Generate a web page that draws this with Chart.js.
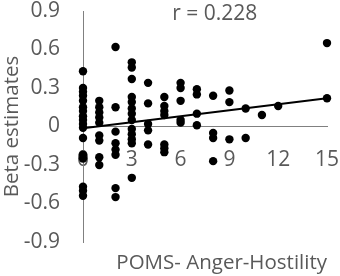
<!DOCTYPE html>
<html><head><meta charset="utf-8">
<script src="https://cdn.jsdelivr.net/npm/chart.js@4/dist/chart.umd.min.js"></script>
<style>html,body{margin:0;padding:0;background:#fff;}#wrap{width:340px;height:276px;}</style>
</head><body><div id="wrap"><canvas id="c" width="340" height="276"></canvas></div>
<script>
// POMS Anger-Hostility scores (x) and beta estimates (y)
const angerScores = [
  0,0,0,0,0,0,0,0,0,0,0,0,0,0,0,0,0,
  1,1,1,1,1,1,1,1,1,
  2,2,2,2,2,2,2,2,
  3,3,3,3,3,3,3,3,3,3,3,3,3,
  4,4,4,4,4,
  5,5,5,5,5,5,5,
  6,6,6,6,6,
  7,7,7,7,
  8,8,8,8,
  9,9,9,
  10,10,
  11,
  12,
  15,15
];
const betaEstimates = [
  0.43,0.30,0.27,0.24,0.20,0.15,0.12,0.08,0.05,0.02,-0.01,-0.09,-0.22,-0.25,-0.47,-0.50,-0.54,
  0.20,0.15,0.11,0.07,0.03,-0.07,-0.11,-0.24,-0.30,
  0.62,0.15,-0.04,-0.13,-0.18,-0.22,-0.48,-0.55,
  0.50,0.46,0.37,0.23,0.19,0.14,0.10,0.05,-0.02,-0.06,-0.10,-0.13,-0.40,
  0.34,0.18,0.02,-0.03,-0.14,
  0.23,0.16,0.12,0.09,-0.14,-0.17,-0.20,
  0.34,0.30,0.20,0.05,0.03,
  0.29,0.25,0.10,0.01,
  0.24,-0.05,-0.09,-0.27,
  0.28,0.19,-0.10,
  0.14,-0.09,
  0.09,
  0.16,
  0.65,0.22
];
// Linear trend line endpoints
const trendX = [0, 15];
const trendY = [-0.013, 0.22];
const xTickLabels = ['0','3','6','9','12','15'];
const yTickLabels = ['-0.9','-0.6','-0.3','0','0.3','0.6','0.9'];
const rText = 'r = 0.228';
const xTitle = 'POMS- Anger-Hostility';
const yTitle = 'Beta estimates';

const FONT = 'Open Sans';
const TXT = '#595959';
const AX = '#808080';

const points = angerScores.map((x, i) => ({x: x, y: betaEstimates[i]}));
const trend = trendX.map((x, i) => ({x: x, y: trendY[i]}));

const rLabel = {
  id: 'rLabel',
  afterDatasetsDraw(chart) {
    const {ctx, scales} = chart;
    ctx.save();
    ctx.font = '21px "' + FONT + '"';
    ctx.fillStyle = TXT;
    ctx.textAlign = 'center';
    ctx.textBaseline = 'middle';
    ctx.fillText(rText, scales.x.getPixelForValue(8.1), scales.y.getPixelForValue(0.875));
    ctx.restore();
  }
};

const noPad = s => { s.paddingTop = 0; s.paddingBottom = 0; s.paddingLeft = 0; s.paddingRight = 0; };

new Chart(document.getElementById('c'), {
  data: {
    datasets: [
      {type: 'line', data: trend, borderColor: '#000', borderWidth: 2, pointRadius: 0, fill: false, order: 0, xAxisID: 'x', yAxisID: 'y', clip: false},
      {type: 'scatter', data: points, backgroundColor: '#000', borderColor: '#000', borderWidth: 0, pointRadius: 4.2, order: 1, xAxisID: 'x', yAxisID: 'y', clip: false}
    ]
  },
  options: {
    responsive: false,
    devicePixelRatio: 1,
    animation: false,
    plugins: {legend: {display: false}, tooltip: {enabled: false}},
    layout: {padding: {top: 11, right: 13, bottom: 0, left: 0}},
    scales: {
      x: {
        type: 'linear', position: {y: 0}, min: 0, max: 15, z: 1,
        afterBuildTicks: s => { s.ticks = xTickLabels.map(v => ({value: Number(v)})); },
        ticks: {padding: 21, color: TXT, font: {family: FONT, size: 21}, maxRotation: 0, autoSkip: false,
          callback: (v, i) => xTickLabels[i]},
        grid: {display: false, drawTicks: false},
        border: {display: true, color: AX, width: 1},
        afterFit: noPad
      },
      x2: {
        type: 'linear', axis: 'x', position: 'bottom', min: 0, max: 15,
        ticks: {display: false},
        grid: {display: false, drawTicks: false},
        border: {display: false},
        title: {display: true, text: xTitle, align: 'end', color: TXT, font: {family: FONT, size: 20.5}, padding: {top: 0, bottom: 1}},
        afterFit: s => { noPad(s); s.height = 34; }
      },
      y: {
        type: 'linear', position: 'left', min: -0.9, max: 0.9,
        afterBuildTicks: s => { s.ticks = yTickLabels.map(v => ({value: Number(v)})); },
        ticks: {padding: 23, color: TXT, font: {family: FONT, size: 21},
          callback: (v, i) => yTickLabels[i]},
        grid: {display: false, drawTicks: false},
        border: {display: true, color: AX, width: 1},
        title: {display: true, text: yTitle, color: TXT, font: {family: FONT, size: 20.5}, padding: {top: 0, bottom: 0}},
        afterFit: s => { noPad(s); s.width = 83; }
      }
    }
  },
  plugins: [rLabel]
});
</script>
</body></html>
